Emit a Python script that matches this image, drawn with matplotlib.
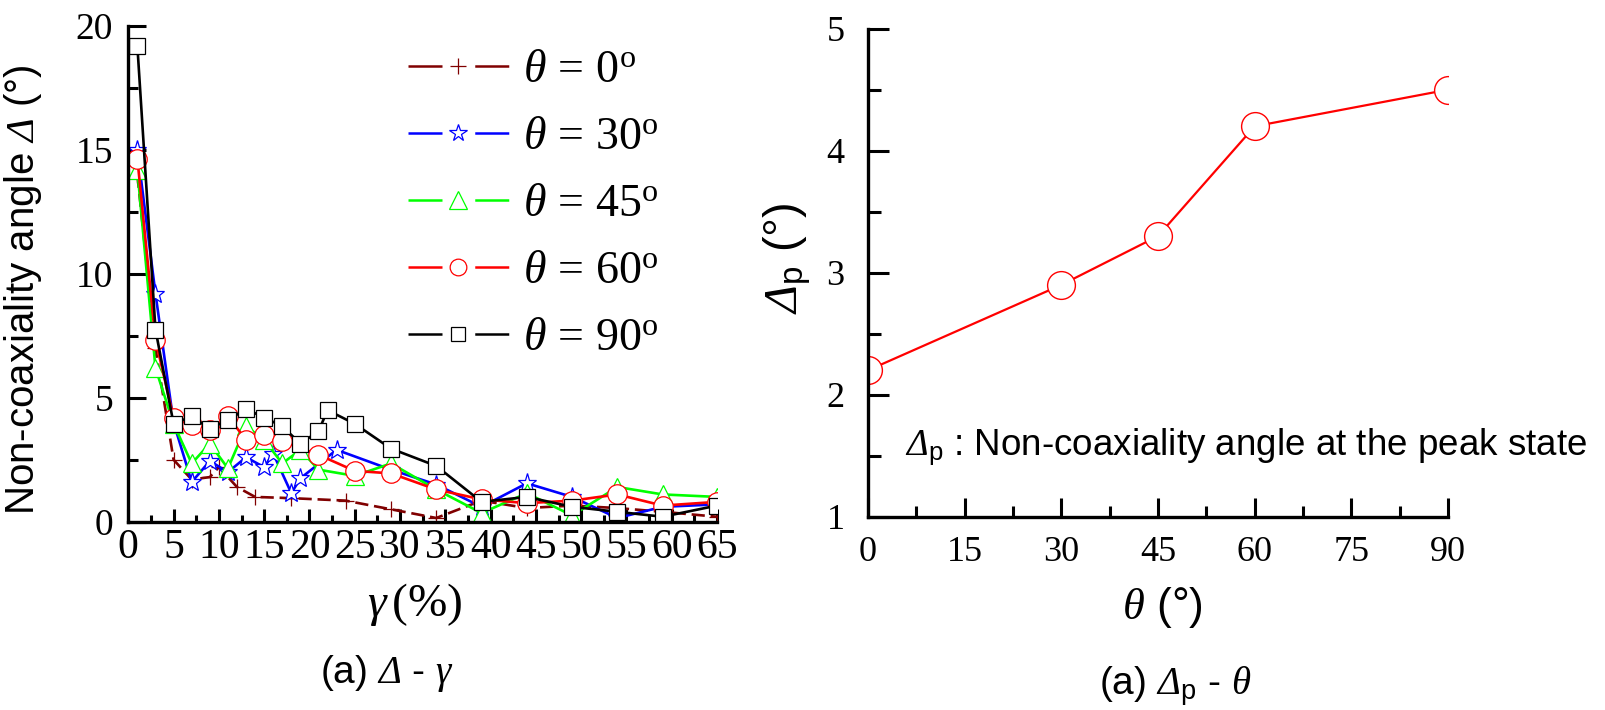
import matplotlib
matplotlib.use("Agg")
import matplotlib.pyplot as plt
from matplotlib.lines import Line2D
from matplotlib.legend_handler import HandlerTuple
from matplotlib.ticker import MultipleLocator

plt.rcParams['mathtext.fontset'] = 'custom'
plt.rcParams['mathtext.rm'] = 'Liberation Serif'
plt.rcParams['mathtext.it'] = 'Liberation Serif:italic'
plt.rcParams['mathtext.cal'] = 'Liberation Serif:italic'
plt.rcParams['mathtext.sf'] = 'Liberation Sans'

# ---------------- data: left panel (Delta vs gamma) ----------------
x_t0 = [1, 3, 5, 7, 9, 10, 12, 14, 18, 24, 29, 34, 39, 44, 49, 54, 59, 65]
y_t0 = [14.0, 7.0, 2.5, 1.7, 1.8, 2.2, 1.4, 1.0, 0.95, 0.85, 0.5, 0.15, 0.85, 0.55, 0.65, 0.55, 0.4, 0.2]

x_t30 = [1, 3, 5, 7, 9, 11, 13, 15, 16, 18, 19, 23, 29, 34, 39, 44, 49, 54, 59, 65]
y_t30 = [15.0, 9.2, 4.0, 1.6, 2.45, 2.0, 2.6, 2.2, 2.75, 1.15, 1.75, 2.9, 2.1, 1.5, 0.6, 1.55, 1.0, 0.15, 0.6, 0.7]

x_t45 = [1, 3, 5, 7, 9, 11, 13, 15, 17, 19, 21, 25, 29, 34, 39, 44, 49, 54, 59, 65]
y_t45 = [14.2, 6.2, 3.95, 2.35, 3.15, 2.15, 3.85, 3.3, 2.35, 2.9, 2.1, 1.85, 2.35, 1.3, 0.35, 1.15, 0.25, 1.4, 1.1, 1.0]

x_t60 = [1, 3, 5, 7, 9, 11, 13, 15, 17, 21, 25, 29, 34, 39, 44, 49, 54, 59, 65]
y_t60 = [14.65, 7.35, 4.2, 3.9, 3.7, 4.25, 3.3, 3.5, 3.25, 2.7, 2.05, 1.95, 1.3, 0.9, 0.75, 0.85, 1.1, 0.65, 0.8]

x_t90 = [1, 3, 5, 7, 9, 11, 13, 15, 17, 19, 21, 22, 25, 29, 34, 39, 44, 49, 54, 59, 65]
y_t90 = [19.2, 7.75, 3.95, 4.25, 3.75, 4.1, 4.55, 4.2, 3.85, 3.15, 3.65, 4.5, 3.95, 2.95, 2.25, 0.8, 1.0, 0.6, 0.4, 0.2, 0.65]

series_labels = [r'$\theta\,=\,0^{\mathrm{o}}$', r'$\theta\,=\,30^{\mathrm{o}}$', r'$\theta\,=\,45^{\mathrm{o}}$',
                 r'$\theta\,=\,60^{\mathrm{o}}$', r'$\theta\,=\,90^{\mathrm{o}}$']
left_xticks = [0, 5, 10, 15, 20, 25, 30, 35, 40, 45, 50, 55, 60, 65]
left_yticks = [0, 5, 10, 15, 20]

# ---------------- data: right panel (Delta_p vs theta) ----------------
theta = [0, 30, 45, 60, 90]
delta_p = [2.2, 2.9, 3.3, 4.2, 4.5]
right_xticks = [0, 15, 30, 45, 60, 75, 90]
right_yticks = [1, 2, 3, 4, 5]

W, H = 1606, 710
fig = plt.figure(figsize=(W / 100, H / 100), dpi=100)

def fx(px):
    return px / W

def fy(py):
    return 1 - py / H

# ---------------- left panel ----------------
ax1 = fig.add_axes([fx(128.3), fy(521.7), (717 - 128.3) / W, (521.7 - 26) / H])
styles = [
    (x_t0, y_t0, '#800000', '+', 12, (0, (5, 2.2))),
    (x_t30, y_t30, '#0000FF', '*', 14, '-'),
    (x_t45, y_t45, '#00FF00', '^', 13, '-'),
    (x_t60, y_t60, '#FF0000', 'o', 14, '-'),
    (x_t90, y_t90, '#000000', 's', 11, '-'),
]
for xs, ys, c, m, ms, ls in styles:
    ax1.plot(xs, ys, color=c, lw=1.9, ls=ls, marker=m, ms=ms, mfc='white',
             mec=c, mew=0.9)

ax1.set_xlim(0, 65)
ax1.set_ylim(0, 20)
ax1.set_xticks(left_xticks)
ax1.set_yticks(left_yticks)
ax1.xaxis.set_minor_locator(MultipleLocator(2.5))
ax1.yaxis.set_minor_locator(MultipleLocator(2.5))
for s in ['top', 'right']:
    ax1.spines[s].set_visible(False)
for s in ['left', 'bottom']:
    ax1.spines[s].set_linewidth(2.4)
ax1.tick_params(axis='x', which='major', direction='in', length=9.5, width=2.2, pad=5)
ax1.tick_params(axis='x', which='minor', direction='in', length=5, width=2.2)
ax1.tick_params(axis='y', which='major', direction='in', length=13, width=2.2, pad=11)
ax1.tick_params(axis='y', which='minor', direction='in', length=7, width=2.2)
for lab in ax1.get_xticklabels():
    lab.set_fontfamily('Liberation Serif')
    lab.set_fontsize(30)
for lab in ax1.get_yticklabels():
    lab.set_fontfamily('Liberation Serif')
    lab.set_fontsize(27)

# legend
handles = []
leg_ms = [12, 13, 13, 12, 10]
for (xs, ys, c, m, ms, ls), lms in zip(styles, leg_ms):
    ln = Line2D([], [], color=c, lw=1.8, ls=(0, (13.6, 13.1)))
    mk = Line2D([], [], color=c, marker=m, ms=lms, mfc='white', mec=c, mew=0.9, ls='none')
    handles.append((ln, mk))
fig.legend(handles, series_labels, handler_map={tuple: HandlerTuple(ndivide=1, pad=0)},
           loc='upper left', bbox_to_anchor=(fx(408), fy(50)), bbox_transform=fig.transFigure,
           frameon=False, borderpad=0, borderaxespad=0,
           handlelength=2.2, handletextpad=0.3, labelspacing=0.53,
           prop={'family': 'Liberation Serif', 'size': 33})

fig.text(fx(23.5), fy(290), r'Non-coaxiality angle $\mathcal{Δ}$ (°)', rotation=90,
         ha='center', va='center', fontsize=29, family='Liberation Sans')
fig.text(fx(415), fy(605), r'$γ\,$(%)', ha='center', va='center', fontsize=34,
         family='Liberation Serif')
fig.text(fx(387), fy(673), r'(a) $\mathcal{Δ}$ - $γ$', ha='center', va='center',
         fontsize=28, family='Liberation Sans')

# ---------------- right panel ----------------
ax2 = fig.add_axes([fx(868), fy(516.7), (1448 - 868) / W, (516.7 - 28.7) / H])
ax2.plot(theta, delta_p, color='#FF0000', lw=1.6, marker='o', ms=20, mfc='white',
         mec='#FF0000', mew=1.0)
ax2.set_xlim(0, 90)
ax2.set_ylim(1, 5)
ax2.set_xticks(right_xticks)
ax2.set_yticks(right_yticks)
ax2.xaxis.set_minor_locator(MultipleLocator(7.5))
ax2.yaxis.set_minor_locator(MultipleLocator(0.5))
for s in ['top', 'right']:
    ax2.spines[s].set_visible(False)
for s in ['left', 'bottom']:
    ax2.spines[s].set_linewidth(2.4)
ax2.tick_params(axis='x', which='major', direction='in', length=14, width=2.2, pad=14)
ax2.tick_params(axis='x', which='minor', direction='in', length=8, width=2.2)
ax2.tick_params(axis='y', which='major', direction='in', length=15, width=2.2, pad=17)
ax2.tick_params(axis='y', which='minor', direction='in', length=9, width=2.2)
for lab in ax2.get_xticklabels() + ax2.get_yticklabels():
    lab.set_fontfamily('Liberation Serif')
    lab.set_fontsize(26)

fig.text(fx(905), fy(455), r'$\mathcal{Δ}_{\mathsf{p}}$ : Non-coaxiality angle at the peak state',
         ha='left', va='baseline', fontsize=26.5, family='Liberation Sans')
fig.text(fx(787), fy(258), r'$\mathcal{Δ}_{\mathsf{p}}$ (°)', rotation=90, ha='center',
         va='center', fontsize=34, family='Liberation Sans')
fig.text(fx(1162), fy(607), r'$θ$ (°)', ha='center', va='center', fontsize=32,
         family='Liberation Sans')
fig.text(fx(1175), fy(687), r'(a) $\mathcal{Δ}_{\mathsf{p}}$ - $θ$', ha='center', va='center',
         fontsize=28, family='Liberation Sans')

fig.savefig('out.png', dpi=100, facecolor='white')
